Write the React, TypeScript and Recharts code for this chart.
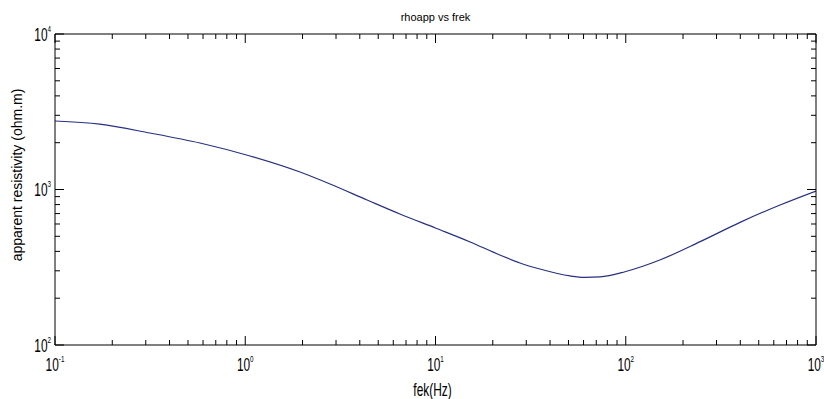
import React from 'react';
import { LineChart, Line, XAxis, YAxis } from 'recharts';

const frequency = [0.1, 0.172, 0.316, 0.578, 1.06, 1.94, 2.79, 4.37, 6.5, 10, 15.2, 21.8, 27.8, 35.4, 50.9, 61.1, 73.3, 99.1, 151, 246, 399, 647, 1000];
const resistivity = [2757, 2630, 2308, 1991, 1642, 1295, 1085, 856, 696, 565, 460, 379, 337, 308, 278, 272, 274, 296, 352, 462, 615, 795, 978];

const xMajorTicks = [0.1, 1, 10, 100, 1000];
const xMajorExponents = ['-1', '0', '1', '2', '3'];
const yMajorTicks = [100, 1000, 10000];
const yMajorExponents = ['2', '3', '4'];
const minorMultipliers = [2, 3, 4, 5, 6, 7, 8, 9];

const titleText = 'rhoapp vs frek';
const xLabelText = 'fek(Hz)';
const yLabelText = 'apparent resistivity (ohm.m)';

const data = frequency.map((f, i) => ({ f, rho: resistivity[i] }));

function withMinor(majors: number[]): number[] {
  const out: number[] = [];
  majors.forEach((m, i) => {
    out.push(m);
    if (i < majors.length - 1) minorMultipliers.forEach((k) => out.push(+(m * k).toPrecision(6)));
  });
  return out;
}
const xTicksAll = withMinor(xMajorTicks);
const yTicksAll = withMinor(yMajorTicks);

function majorIndex(majors: number[], v: number) {
  return majors.findIndex((m) => Math.abs(m - v) / m < 1e-6);
}

const FONT = '"Liberation Sans", Arial, sans-serif';
const MAJOR = 9;
const MINOR = 5;

function PowerLabel({ x, y, exp, anchor }: { x: number; y: number; exp: string; anchor: string }) {
  return (
    <text transform={`translate(${x},${y}) scale(0.66,1)`} textAnchor={anchor} fontFamily={FONT} fontSize={18} fill="#000">
      <tspan>10</tspan>
      <tspan dy={-9} fontSize={9.5}>{exp}</tspan>
    </text>
  );
}

const BottomTick = (props: any) => {
  const { x, y, payload } = props;
  const idx = majorIndex(xMajorTicks, payload.value);
  const len = idx >= 0 ? MAJOR : MINOR;
  return (
    <g>
      <line x1={x} x2={x} y1={y} y2={y - len} stroke="#000" strokeWidth={1} />
      {idx >= 0 && <PowerLabel x={x} y={y + 26} exp={xMajorExponents[idx]} anchor="middle" />}
    </g>
  );
};

const TopTick = (props: any) => {
  const { x, y, payload } = props;
  const idx = majorIndex(xMajorTicks, payload.value);
  const len = idx >= 0 ? MAJOR : MINOR;
  return <line x1={x} x2={x} y1={y} y2={y + len} stroke="#000" strokeWidth={1} />;
};

const LeftTick = (props: any) => {
  const { x, y, payload } = props;
  const idx = majorIndex(yMajorTicks, payload.value);
  const len = idx >= 0 ? MAJOR : MINOR;
  return (
    <g>
      <line x1={x} x2={x + len} y1={y} y2={y} stroke="#000" strokeWidth={1} />
      {idx >= 0 && <PowerLabel x={x - 4} y={y + 6.5} exp={yMajorExponents[idx]} anchor="end" />}
    </g>
  );
};

const RightTick = (props: any) => {
  const { x, y, payload } = props;
  const idx = majorIndex(yMajorTicks, payload.value);
  const len = idx >= 0 ? MAJOR : MINOR;
  return <line x1={x} x2={x - len} y1={y} y2={y} stroke="#000" strokeWidth={1} />;
};

export default function App() {
  return (
    <div style={{ position: 'absolute', left: 0, top: 0, width: 824, height: 399, background: '#fff' }}>
      <LineChart width={824} height={399} data={data} margin={{ top: 0, right: 0, bottom: 0, left: 0 }}>
        <XAxis
          xAxisId="b"
          dataKey="f"
          type="number"
          scale="log"
          domain={[0.1, 1000]}
          allowDataOverflow
          ticks={xTicksAll}
          interval={0}
          height={54}
          tickSize={0}
          tickMargin={0}
          tickLine={false}
          axisLine={{ stroke: '#000', strokeWidth: 1 }}
          tick={<BottomTick />}
        />
        <XAxis
          xAxisId="t"
          orientation="top"
          dataKey="f"
          type="number"
          scale="log"
          domain={[0.1, 1000]}
          allowDataOverflow
          ticks={xTicksAll}
          interval={0}
          height={34}
          tickSize={0}
          tickMargin={0}
          tickLine={false}
          axisLine={{ stroke: '#000', strokeWidth: 1 }}
          tick={<TopTick />}
        />
        <YAxis
          yAxisId="l"
          type="number"
          scale="log"
          domain={[100, 10000]}
          allowDataOverflow
          ticks={yTicksAll}
          interval={0}
          width={55}
          tickSize={0}
          tickMargin={0}
          tickLine={false}
          axisLine={{ stroke: '#000', strokeWidth: 1 }}
          tick={<LeftTick />}
        />
        <YAxis
          yAxisId="r"
          orientation="right"
          type="number"
          scale="log"
          domain={[100, 10000]}
          allowDataOverflow
          ticks={yTicksAll}
          interval={0}
          width={8}
          tickSize={0}
          tickMargin={0}
          tickLine={false}
          axisLine={{ stroke: '#000', strokeWidth: 1 }}
          tick={<RightTick />}
        />
        <Line
          xAxisId="b"
          yAxisId="l"
          dataKey="rho"
          type="monotone"
          stroke="#27307f"
          strokeWidth={1.2}
          dot={false}
          isAnimationActive={false}
        />
      </LineChart>
      <svg width={824} height={399} style={{ position: 'absolute', left: 0, top: 0, pointerEvents: 'none' }}>
        <text x={435.5} y={21} textAnchor="middle" fontFamily={FONT} fontSize={11} fill="#000">{titleText}</text>
        <text transform="translate(432.5,396) scale(0.66,1)" textAnchor="middle" fontFamily={FONT} fontSize={18} fill="#000">{xLabelText}</text>
        <text transform="translate(22,175) rotate(-90)" textAnchor="middle" fontFamily={FONT} fontSize={14} fill="#000">{yLabelText}</text>
      </svg>
    </div>
  );
}
